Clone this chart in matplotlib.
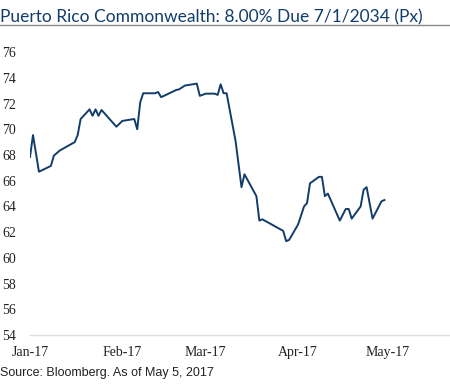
import matplotlib
matplotlib.use("Agg")
import matplotlib.pyplot as plt
import matplotlib.dates as mdates
import pandas as pd

# price series
dates = [
    "2017-01-01", "2017-01-02", "2017-01-04", "2017-01-08", "2017-01-09",
    "2017-01-11", "2017-01-16", "2017-01-17", "2017-01-18", "2017-01-21",
    "2017-01-22", "2017-01-23", "2017-01-24", "2017-01-25", "2017-01-30",
    "2017-02-01", "2017-02-05", "2017-02-06", "2017-02-07", "2017-02-08",
    "2017-02-12", "2017-02-13", "2017-02-14", "2017-02-15", "2017-02-19",
    "2017-02-20", "2017-02-22", "2017-02-26", "2017-02-27", "2017-03-01",
    "2017-03-04", "2017-03-05", "2017-03-06", "2017-03-07", "2017-03-08",
    "2017-03-11", "2017-03-13", "2017-03-14", "2017-03-18", "2017-03-19",
    "2017-03-20", "2017-03-27", "2017-03-28", "2017-03-29", "2017-04-01",
    "2017-04-03", "2017-04-04", "2017-04-05", "2017-04-08", "2017-04-09",
    "2017-04-10", "2017-04-11", "2017-04-15", "2017-04-17", "2017-04-18",
    "2017-04-19", "2017-04-22", "2017-04-23", "2017-04-24", "2017-04-26",
    "2017-04-29", "2017-04-30",
]
prices = [
    67.85, 69.55, 66.7, 67.15, 67.95,
    68.35, 69.0, 69.55, 70.8, 71.55,
    71.05, 71.55, 71.05, 71.5, 70.2,
    70.65, 70.8, 70.0, 72.1, 72.8,
    72.8, 72.9, 72.5, 72.6, 73.05,
    73.1, 73.4, 73.55, 72.6, 72.77,
    72.77, 72.67, 73.5, 72.8, 72.8,
    69.1, 65.5, 66.5, 64.8, 62.9,
    63.0, 62.1, 61.3, 61.4, 62.6,
    64.0, 64.26, 65.8, 66.3, 66.3,
    64.8, 65.0, 62.9, 63.8, 63.8,
    63.05, 64.0, 65.3, 65.5, 63.05,
    64.4, 64.5,
]
month_ticks = ["2017-01-01", "2017-02-01", "2017-03-01", "2017-04-01", "2017-05-01"]
y_ticks = list(range(54, 77, 2))

title = "Puerto Rico Commonwealth: 8.00% Due 7/1/2034 (Px)"
source = "Source: Bloomberg. As of May 5, 2017"

navy = "#123d6b"

fig = plt.figure(figsize=(4.5, 3.86), dpi=100)
ax = fig.add_axes([0.0667, 0.132, 0.9333, 0.733])

ax.plot(pd.to_datetime(dates), prices, color=navy, linewidth=1.4)

ax.set_xlim(pd.Timestamp("2017-01-01"), pd.Timestamp("2017-05-22"))
ax.set_ylim(54, 76)
ax.set_yticks(y_ticks)
ax.set_xticks(pd.to_datetime(month_ticks))
ax.xaxis.set_major_formatter(mdates.DateFormatter("%b-%y"))

for s in ["top", "right", "left"]:
    ax.spines[s].set_visible(False)
ax.spines["bottom"].set_color("#dddddd")
ax.spines["bottom"].set_linewidth(1.0)
ax.tick_params(length=0, labelsize=10, colors="#222222")
ax.tick_params(axis="x", pad=8)
ax.tick_params(axis="y", pad=20)
for lbl in ax.get_xticklabels() + ax.get_yticklabels():
    lbl.set_fontfamily("Liberation Serif")
for lbl in ax.get_yticklabels():
    lbl.set_horizontalalignment("left")

fig.text(0.0, 0.955, title, fontsize=12.5, color=navy, family="Lato",
         ha="left", va="center")
fig.add_artist(plt.Line2D([0, 1], [0.935, 0.935], color="#8a8a8a",
                          linewidth=1.0, transform=fig.transFigure))
fig.text(0.0, 0.033, source, fontsize=9, color="#222222",
         family="Liberation Sans", ha="left", va="center")

fig.savefig("out.png", dpi=100)
